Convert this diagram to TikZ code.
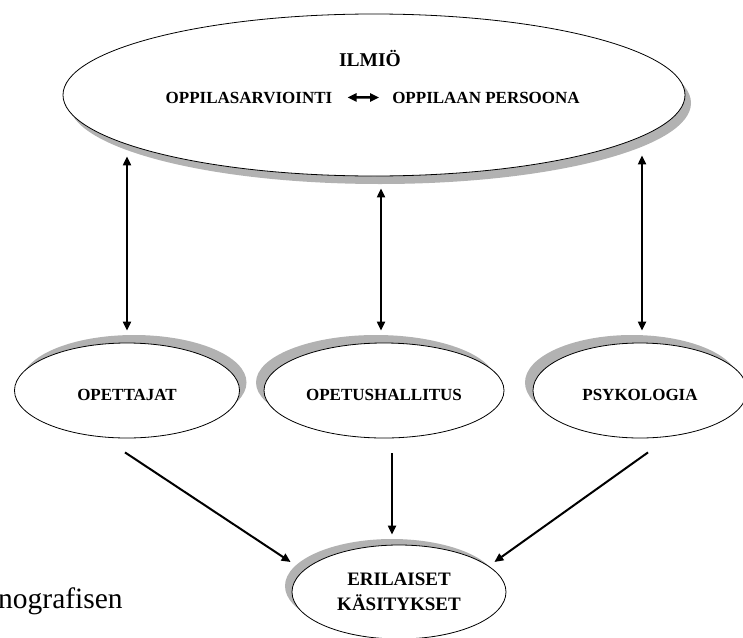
\documentclass[tikz,border=0pt]{standalone}
\usepackage{fontspec}
\setmainfont{Liberation Serif}
\usetikzlibrary{shapes.geometric,shadows,arrows.meta,calc}

\begin{document}
\begin{tikzpicture}[x=1pt,y=-1pt,
    blob/.style={ellipse,draw,fill=white,line width=0.8pt,inner sep=0pt},
    dropsh/.style 2 args={drop shadow={shadow xshift=#1,shadow yshift=#2,fill=gray!60,opacity=1}},
    lbl/.style={font=\bfseries\fontsize{17}{20}\selectfont,inner sep=0pt},
    conn/.style={line width=2pt,>={Triangle[length=9pt,width=8pt]}}]
    \useasboundingbox (0,0) rectangle (743,637);
    \clip (0,0) rectangle (743,637);

    \node[blob,dropsh={6pt}{-8pt},minimum width=622pt,minimum height=162pt] (ilmio) at (374,95) {};
    \node[lbl,font=\bfseries\fontsize{19.5}{22}\selectfont,anchor=base] (tit) at (370,66) {ILMIÖ};
    \node[lbl,anchor=base] (arv) at (249,103) {OPPILASARVIOINTI};
    \node[lbl,anchor=base] (pers) at (486,103) {OPPILAAN PERSOONA};
    \draw[conn,<->,line width=2.5pt,shorten <=15pt,shorten >=13pt] (arv) -- (pers);

    \foreach \n / \x / \w / \sx / \txt in {opet/127/225/7pt/OPETTAJAT, ophal/384/240/-8pt/OPETUSHALLITUS, psyk/640/214/-8pt/PSYKOLOGIA}
        \node[blob,lbl,dropsh={\sx}{8pt},text height=21pt,minimum width=\w pt,minimum height=95pt] (\n) at (\x,390.5) {\txt};

    \node[blob,dropsh={-7pt}{6pt},minimum width=214pt,minimum height=94pt,font=\bfseries\fontsize{19}{25}\selectfont,align=center] (eri) at (399,592) {ERILAISET\\KÄSITYKSET};

    \foreach \n / \dx / \dy in {opet/0/-20, ophal/-3/12, psyk/2/-21}
        \draw[conn,<->] ($(ilmio.south -| \n.north)+(\dx,\dy)$) -- ($(\n.north)+(\dx,-12)$);

    \draw[conn,->] ($(opet.south)+(-2,14)$) -- ($(eri.west)+(-1,-30)$);
    \draw[conn,->] ($(ophal.south)+(8,15)$) -- ($(eri.north)+(-7,-10)$);
    \draw[conn,->] ($(psyk.south)+(8,14)$) -- ($(eri.east)+(-12,-30)$);

    \node[anchor=base west,inner sep=0pt,font=\fontsize{29.5}{32}\selectfont] (etno) at (-2,608) {nografisen};
\end{tikzpicture}
\end{document}
